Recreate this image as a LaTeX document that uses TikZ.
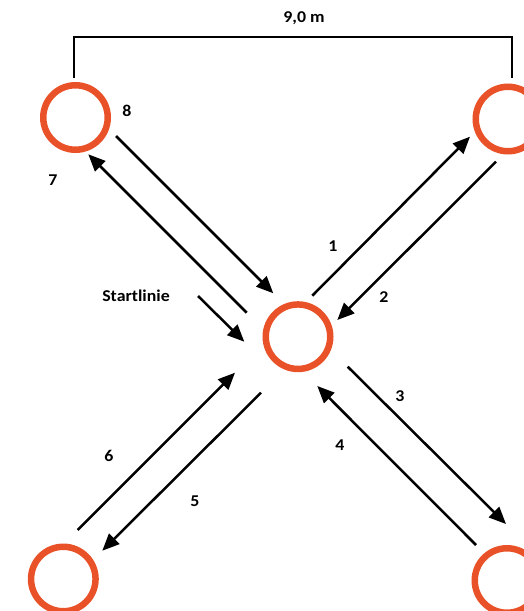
\documentclass[tikz,border=0pt]{standalone}
\usepackage{fontspec}
\setmainfont{Carlito}[FakeStretch=1.08]
\usetikzlibrary{arrows.meta}
\definecolor{ring}{HTML}{E95228}
\begin{document}
\begin{tikzpicture}[x=1pt,y=-1pt,
  cone/.style={circle,draw=ring,line width=6.5pt,minimum size=64.5pt,inner sep=0pt},
  run/.style={line width=2.5pt,-{Triangle[length=17pt,width=14.5pt]}},
  lbl/.style={font=\bfseries\fontsize{16.5}{18}\selectfont,inner sep=0pt},
  dim/.style={line width=2pt}]
\useasboundingbox (0,0) rectangle (523,611);
\node[cone] (tl) at (75.5,117.5) {};
\node[cone] (tr) at (508,119) {};
\node[cone] (c) at (298,336.7) {};
\node[cone] (bl) at (63.3,579) {};
\node[cone] (br) at (507,580.5) {};
% dimension
\coordinate (dl) at (74,78);
\coordinate (dr) at (511.7,78);
\draw[dim] (dl) |- (311,36.7) -| (dr);
\node[lbl] (dim) at (304,18) {9,0 m};
% arrow end points
\coordinate (a8s) at (116,136);   \coordinate (a8e) at (273.3,293.3);
\coordinate (a7s) at (246.7,312.7); \coordinate (a7e) at (88.3,154.3);
\coordinate (sls) at (198,296);   \coordinate (sle) at (244.3,341.7);
\coordinate (a1s) at (312.3,295.7); \coordinate (a1e) at (470,136.7);
\coordinate (a2s) at (496,161.7); \coordinate (a2e) at (337.3,320);
\coordinate (a3s) at (347.7,366.7); \coordinate (a3e) at (506,524);
\coordinate (a4s) at (476,545);   \coordinate (a4e) at (317.3,386);
\coordinate (a5s) at (261,392.7); \coordinate (a5e) at (102.3,550.7);
\coordinate (a6s) at (77.7,530);  \coordinate (a6e) at (235,372.7);
\draw[run] (a8s) -- (a8e);
\draw[run] (a7s) -- (a7e);
\draw[run] (sls) -- (sle);
\draw[run] (a1s) -- (a1e);
\draw[run] (a2s) -- (a2e);
\draw[run] (a3s) -- (a3e);
\draw[run] (a4s) -- (a4e);
\draw[run] (a5s) -- (a5e);
\draw[run] (a6s) -- (a6e);
% labels
\node[lbl] (l8) at (127,111) {8};
\node[lbl] (l7) at (53,180) {7};
\node[lbl] (l1) at (333,246) {1};
\node[lbl] (l2) at (384,297) {2};
\node[lbl] (l3) at (400,396) {3};
\node[lbl] (l4) at (340,445) {4};
\node[lbl] (l5) at (195,501) {5};
\node[lbl] (l6) at (109,456) {6};
\node[lbl] (sl) at (136,296) {Startlinie};
\end{tikzpicture}
\end{document}
